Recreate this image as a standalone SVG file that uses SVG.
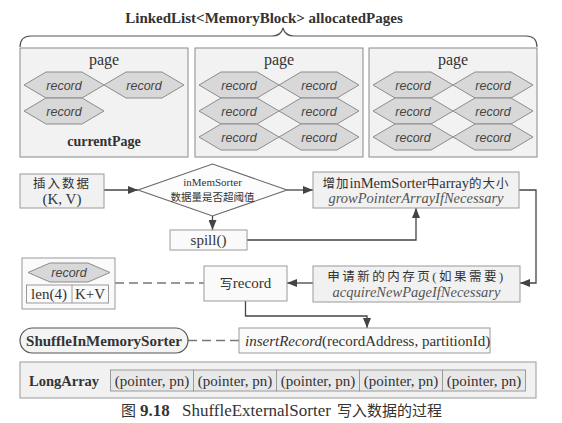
<svg xmlns="http://www.w3.org/2000/svg" xmlns:xlink="http://www.w3.org/1999/xlink" width="562" height="423" viewBox="0 0 562 423">
<style>
  .serif { font-family: "Liberation Serif", "Noto Sans CJK SC", serif; fill: #333; }
  .cjk { font-family: "Noto Sans CJK SC", sans-serif; fill: #333; }
  .rec { font-family: "Liberation Sans", sans-serif; font-style: italic; font-size: 12.5px; fill: #444; text-anchor: middle; }
  .it { font-style: italic; fill: #555; }
  .page { fill: #f2f2f2; stroke: #8a8a8a; stroke-width: 1; }
  .hex { fill: #d8d8d8; stroke: #8c8c8c; stroke-width: 1; }
  .box { fill: #f1f1f1; stroke: #9a9a9a; stroke-width: 1; }
  .wbox { fill: #fafafa; stroke: #9a9a9a; stroke-width: 1; }
  .conn { fill: none; stroke: #444; stroke-width: 1.3; }
  .dash { fill: none; stroke: #777; stroke-width: 1.5; stroke-dasharray: 9 5; }
  .mid { text-anchor: middle; }
</style>
<defs>
  <path id="hex" d="M0,0 L22,-13 L58,-13 L80,0 L58,13 L22,13 Z"/>
  <marker id="arr" markerUnits="userSpaceOnUse" markerWidth="10" markerHeight="8" refX="10" refY="4" orient="auto">
    <path d="M0,0 L10,4 L0,8 Z" fill="#444"/>
  </marker>
</defs>

<!-- title and brace -->
<g id="title">
  <text class="serif mid" x="264" y="23" font-size="15" font-weight="bold">LinkedList&lt;MemoryBlock&gt; allocatedPages</text>
  <path d="M20,47 Q20,36 31,36 L272,36 Q281,36 283,28 Q285,36 294,36 L526,36 Q537,36 537,47" fill="none" stroke="#555" stroke-width="1.2"/>
</g>

<!-- page 1 -->
<g id="page1">
  <rect class="page" x="20" y="48" width="168" height="109"/>
  <text class="serif mid" x="104" y="65" font-size="16">page</text>
  <use href="#hex" class="hex" x="24" y="85"/>
  <use href="#hex" class="hex" x="104" y="85"/>
  <use href="#hex" class="hex" x="24" y="111"/>
  <text class="rec" x="64" y="89.5">record</text>
  <text class="rec" x="144" y="89.5">record</text>
  <text class="rec" x="64" y="115.5">record</text>
  <text class="serif mid" x="104" y="146" font-size="14" font-weight="bold">currentPage</text>
</g>

<!-- page 2 -->
<g id="page2">
  <rect class="page" x="195" y="48" width="168" height="109"/>
  <text class="serif mid" x="279" y="65" font-size="16">page</text>
  <use href="#hex" class="hex" x="199" y="85"/>
  <use href="#hex" class="hex" x="279" y="85"/>
  <use href="#hex" class="hex" x="199" y="111"/>
  <use href="#hex" class="hex" x="279" y="111"/>
  <use href="#hex" class="hex" x="199" y="137"/>
  <use href="#hex" class="hex" x="279" y="137"/>
  <text class="rec" x="239" y="89.5">record</text>
  <text class="rec" x="319" y="89.5">record</text>
  <text class="rec" x="239" y="115.5">record</text>
  <text class="rec" x="319" y="115.5">record</text>
  <text class="rec" x="239" y="141.5">record</text>
  <text class="rec" x="319" y="141.5">record</text>
</g>

<!-- page 3 -->
<g id="page3">
  <rect class="page" x="369" y="48" width="168" height="109"/>
  <text class="serif mid" x="453" y="65" font-size="16">page</text>
  <use href="#hex" class="hex" x="373" y="85"/>
  <use href="#hex" class="hex" x="453" y="85"/>
  <use href="#hex" class="hex" x="373" y="111"/>
  <use href="#hex" class="hex" x="453" y="111"/>
  <use href="#hex" class="hex" x="373" y="137"/>
  <use href="#hex" class="hex" x="453" y="137"/>
  <text class="rec" x="413" y="89.5">record</text>
  <text class="rec" x="493" y="89.5">record</text>
  <text class="rec" x="413" y="115.5">record</text>
  <text class="rec" x="493" y="115.5">record</text>
  <text class="rec" x="413" y="141.5">record</text>
  <text class="rec" x="493" y="141.5">record</text>
</g>

<!-- connectors -->
<g id="connectors">
  <line class="conn" x1="104" y1="190" x2="138" y2="190" marker-end="url(#arr)"/>
  <line class="conn" x1="212.5" y1="216" x2="212.5" y2="230" marker-end="url(#arr)"/>
  <line class="conn" x1="287" y1="190" x2="313" y2="190" marker-end="url(#arr)"/>
  <polyline class="conn" points="247,240 416,240 416,208" marker-end="url(#arr)"/>
  <polyline class="conn" points="519,190 536,190 536,283 520,283" marker-end="url(#arr)"/>
  <line class="conn" x1="313" y1="283" x2="287" y2="283" marker-end="url(#arr)"/>
  <polyline class="conn" points="245.5,301 245.5,316 367,316 367,328" marker-end="url(#arr)"/>
  <line class="dash" x1="115" y1="283" x2="204" y2="283"/>
  <line class="dash" x1="188" y1="340.5" x2="239" y2="340.5"/>
</g>

<!-- insert data -->
<g id="insert">
  <rect class="box" x="20" y="174" width="84" height="34" fill="#ebebeb"/>
  <text class="cjk mid" x="62" y="188" font-size="12.5" letter-spacing="2">插入数据</text>
  <text class="serif mid" x="62" y="204" font-size="15">(K, V)</text>
</g>

<!-- decision -->
<g id="decision">
  <polygon points="138,190 212.5,164 287,190 212.5,216" fill="#fcfcfc" stroke="#666" stroke-width="1.1"/>
  <text class="serif mid" x="212.5" y="186" font-size="11">inMemSorter</text>
  <text class="cjk mid" x="212.5" y="201" font-size="10.5">数据量是否超阈值</text>
</g>

<!-- spill -->
<g id="spill">
  <rect class="wbox" x="170" y="230" width="77" height="20"/>
  <text class="serif mid" x="208.5" y="245" font-size="15">spill()</text>
</g>

<!-- grow -->
<g id="grow">
  <rect class="box" x="313" y="172" width="206" height="36"/>
  <text class="serif mid" x="416" y="188" font-size="14.5"><tspan font-size="12.5" letter-spacing="1">增加</tspan>inMemSorter<tspan font-size="12.5">中</tspan>array<tspan font-size="12.5" letter-spacing="1">的大小</tspan></text>
  <text class="serif mid it" x="416" y="203" font-size="14.5">growPointerArrayIfNecessary</text>
</g>

<!-- acquire -->
<g id="acquire">
  <rect class="box" x="313" y="266" width="207" height="36"/>
  <text class="serif mid" x="416.5" y="281" font-size="12.5" letter-spacing="2.5">申请新的内存页(如果需要)</text>
  <text class="serif mid it" x="416.5" y="297" font-size="14.5">acquireNewPageIfNecessary</text>
</g>

<!-- write record -->
<g id="writeRecord">
  <rect class="wbox" x="204" y="266" width="83" height="35"/>
  <text class="serif mid" x="245.5" y="288" font-size="15"><tspan font-size="13">写</tspan>record</text>
</g>

<!-- record legend -->
<g id="recordLegend">
  <rect class="wbox" x="22" y="258" width="93" height="51"/>
  <polygon class="hex" points="28,272.5 50,263 88,263 110,272.5 88,282 50,282"/>
  <text class="rec" x="69" y="277">record</text>
  <rect x="26.5" y="285" width="82" height="18" fill="#fafafa" stroke="#9a9a9a"/>
  <line x1="72" y1="285" x2="72" y2="303" stroke="#9a9a9a"/>
  <text class="serif mid" x="49" y="299" font-size="15">len(4)</text>
  <text class="serif mid" x="90" y="299" font-size="15">K+V</text>
</g>

<!-- ShuffleInMemorySorter -->
<g id="sorter">
  <rect x="20" y="328" width="168" height="25" rx="12.5" fill="#f4f4f4" stroke="#555" stroke-width="1.2"/>
  <text class="serif mid" x="104" y="345.5" font-size="15" font-weight="bold">ShuffleInMemorySorter</text>
</g>

<!-- insertRecord -->
<g id="insertRecord">
  <rect class="wbox" x="239" y="328" width="251" height="25"/>
  <text class="serif" x="245" y="346" font-size="15"><tspan font-style="italic">insertRecord</tspan>(recordAddress, partitionId)</text>
</g>

<!-- LongArray -->
<g id="longArray">
  <rect class="box" x="20" y="362" width="516" height="36" fill="#ececec"/>
  <text class="serif" x="29" y="386" font-size="14.5" font-weight="bold">LongArray</text>
  <rect x="110.5" y="370" width="83" height="21" fill="#e8e8e8" stroke="#9a9a9a"/>
  <rect x="193.5" y="370" width="83" height="21" fill="#e8e8e8" stroke="#9a9a9a"/>
  <rect x="276.5" y="370" width="83" height="21" fill="#e8e8e8" stroke="#9a9a9a"/>
  <rect x="359.5" y="370" width="83" height="21" fill="#e8e8e8" stroke="#9a9a9a"/>
  <rect x="442.5" y="370" width="83" height="21" fill="#e8e8e8" stroke="#9a9a9a"/>
  <text class="serif mid" x="152" y="386" font-size="15">(pointer, pn)</text>
  <text class="serif mid" x="235" y="386" font-size="15">(pointer, pn)</text>
  <text class="serif mid" x="318" y="386" font-size="15">(pointer, pn)</text>
  <text class="serif mid" x="401" y="386" font-size="15">(pointer, pn)</text>
  <text class="serif mid" x="484" y="386" font-size="15">(pointer, pn)</text>
</g>

<!-- caption -->
<g id="caption">
  <text class="serif" x="121" y="416" font-size="17"><tspan class="cjk" font-size="15">图</tspan><tspan x="140" font-weight="bold">9.18</tspan><tspan x="182">ShuffleExternalSorter</tspan><tspan x="337" class="cjk" font-size="15">写入数据的过程</tspan></text>
</g>
</svg>
